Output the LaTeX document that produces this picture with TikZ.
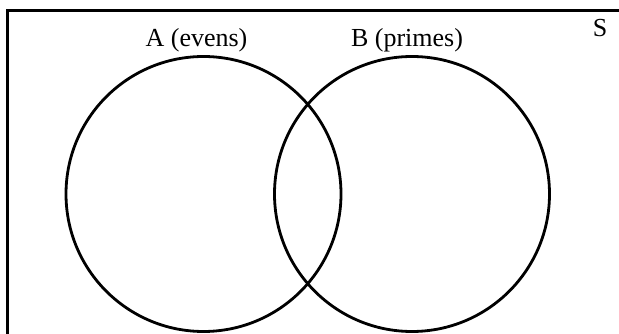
\documentclass[tikz,border=0pt]{standalone}
\usepackage{fontspec}
\setmainfont{Liberation Serif}
\begin{document}
\begin{tikzpicture}[x=1pt,y=-1pt,
  setcircle/.style={draw=black,line width=2.8pt},
  lbl/.style={inner sep=0pt,anchor=base,font=\fontsize{26}{28}\selectfont}]
\useasboundingbox (0,0) rectangle (619,334);
\clip (0,0) rectangle (619,334);
\fill[white] (0,0) rectangle (619,334);
\draw[line width=3.4pt] (7.7,10.5) rectangle (640,360);
\node[setcircle,circle,minimum size=275pt,inner sep=0pt] (A) at (203.5,194) {};
\node[setcircle,circle,minimum size=275pt,inner sep=0pt] (B) at (412,194) {};
\node[lbl] (la) at (196.5,47) {A (evens)};
\node[lbl] (lb) at (407,47) {B (primes)};
\node[lbl] (ls) at (600,37) {S};
\end{tikzpicture}
\end{document}
